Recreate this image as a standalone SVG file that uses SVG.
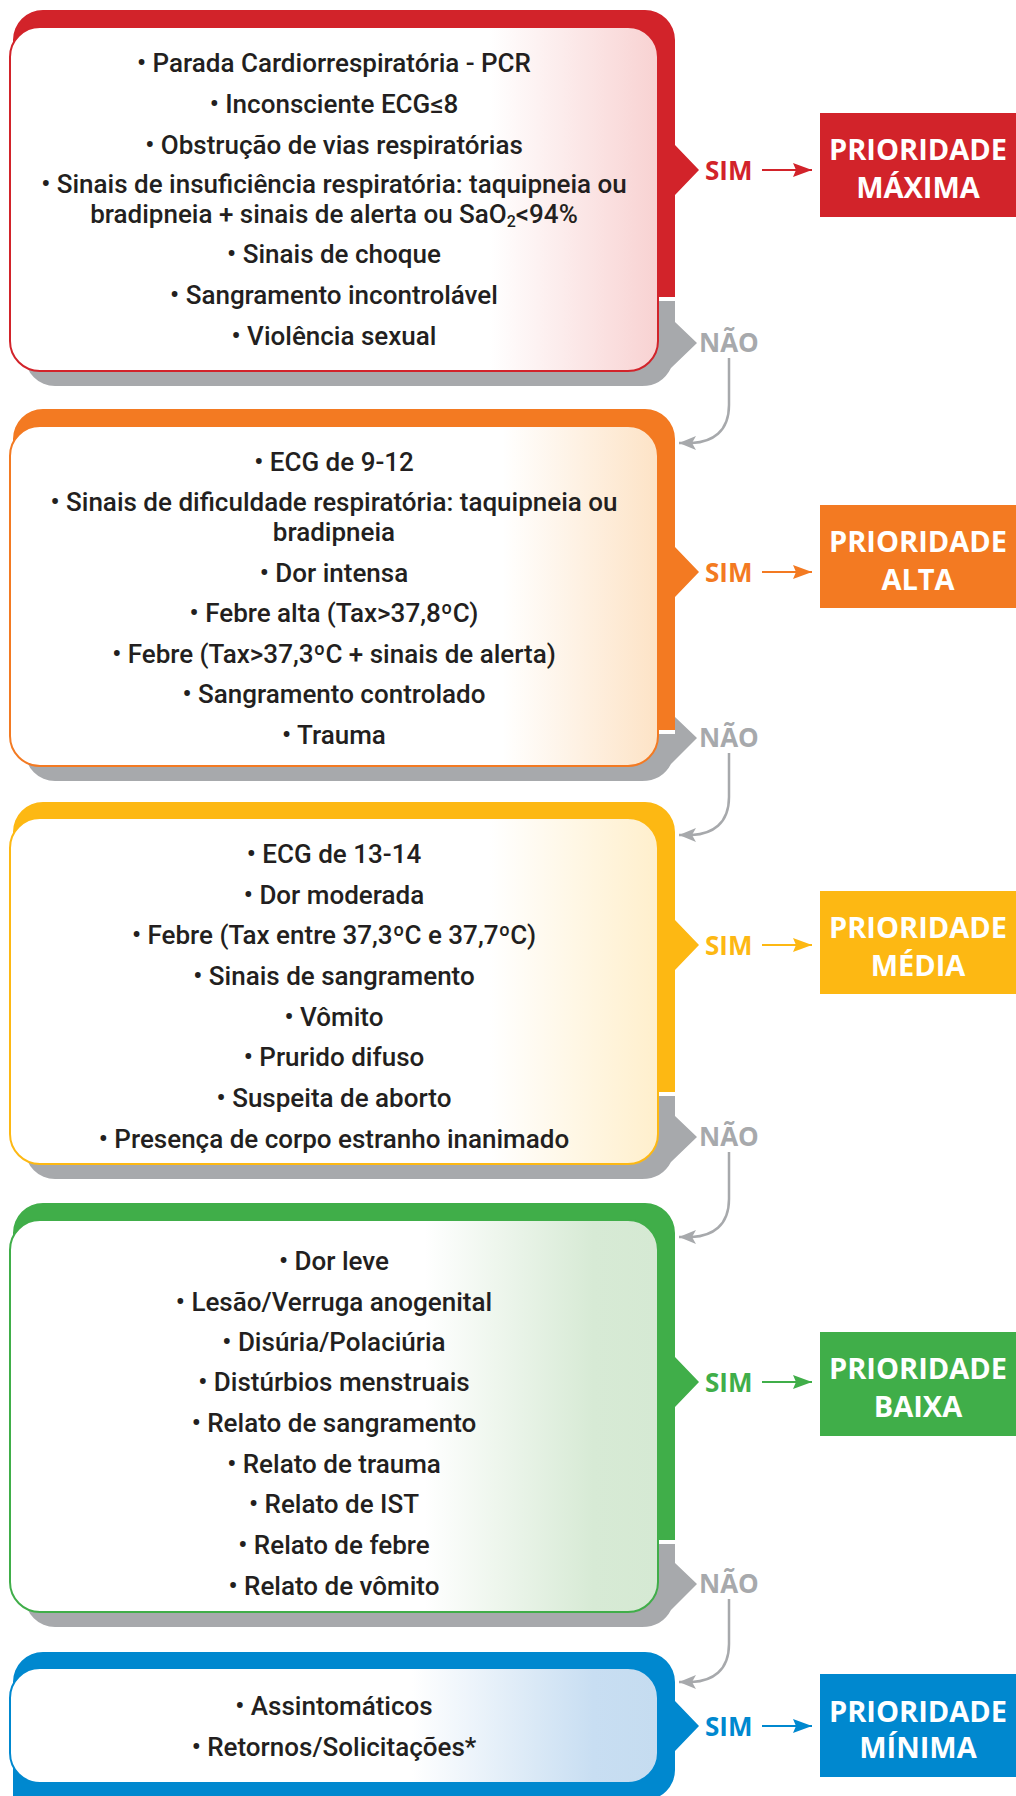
<svg xmlns="http://www.w3.org/2000/svg" width="1016" height="1796" viewBox="0 0 1016 1796">
<style>
.t{font-family:Roboto,"Liberation Sans",sans-serif;font-size:26px;font-weight:500;fill:#231f20;text-anchor:middle}
.sim{font-family:"Open Sans","Liberation Sans",sans-serif;font-weight:700;font-size:26px}
.nao{font-family:"Open Sans","Liberation Sans",sans-serif;font-weight:700;font-size:26px;fill:#a7a9ac}
.pt{font-family:"Open Sans","Liberation Sans",sans-serif;font-weight:700;font-size:29px;fill:#fff;text-anchor:middle}
.grey{fill:#a7a9ac}
.con{fill:none;stroke:#a7a9ac;stroke-width:2.5}
.sa{stroke-width:2.2;fill:none}
</style>
<defs>
<linearGradient id="gR" x1="0" x2="1" y1="0" y2="0"><stop offset="0" stop-color="#fff"/><stop offset="0.74" stop-color="#fff"/><stop offset="1" stop-color="#f8d2d2"/></linearGradient>
<linearGradient id="gO" x1="0" x2="1" y1="0" y2="0"><stop offset="0" stop-color="#fff"/><stop offset="0.76" stop-color="#fff"/><stop offset="1" stop-color="#fde3c6"/></linearGradient>
<linearGradient id="gY" x1="0" x2="1" y1="0" y2="0"><stop offset="0" stop-color="#fff"/><stop offset="0.74" stop-color="#fff"/><stop offset="1" stop-color="#ffefcc"/></linearGradient>
<linearGradient id="gG" x1="0" x2="1" y1="0" y2="0"><stop offset="0" stop-color="#fff"/><stop offset="0.64" stop-color="#fff"/><stop offset="0.9" stop-color="#d7ead5"/><stop offset="1" stop-color="#d5e9d3"/></linearGradient>
<linearGradient id="gB" x1="0" x2="1" y1="0" y2="0"><stop offset="0" stop-color="#fff"/><stop offset="0.62" stop-color="#fff"/><stop offset="0.9" stop-color="#c8def2"/><stop offset="1" stop-color="#c5dcf0"/></linearGradient>
<marker id="mN" markerUnits="userSpaceOnUse" markerWidth="18" markerHeight="14" viewBox="0 0 18 14" refX="17" refY="7" orient="auto"><path d="M0,0 L17,7 L0,14 L4,7 Z" fill="#a7a9ac"/></marker>
<marker id="mR" markerUnits="userSpaceOnUse" markerWidth="20" markerHeight="14" viewBox="0 0 20 14" refX="19" refY="7" orient="auto"><path d="M0,0 L19,7 L0,14 L3,7 Z" fill="#d2232a"/></marker>
<marker id="mO" markerUnits="userSpaceOnUse" markerWidth="20" markerHeight="14" viewBox="0 0 20 14" refX="19" refY="7" orient="auto"><path d="M0,0 L19,7 L0,14 L3,7 Z" fill="#f37a22"/></marker>
<marker id="mY" markerUnits="userSpaceOnUse" markerWidth="20" markerHeight="14" viewBox="0 0 20 14" refX="19" refY="7" orient="auto"><path d="M0,0 L19,7 L0,14 L3,7 Z" fill="#fdb813"/></marker>
<marker id="mG" markerUnits="userSpaceOnUse" markerWidth="20" markerHeight="14" viewBox="0 0 20 14" refX="19" refY="7" orient="auto"><path d="M0,0 L19,7 L0,14 L3,7 Z" fill="#40ae49"/></marker>
<marker id="mB" markerUnits="userSpaceOnUse" markerWidth="20" markerHeight="14" viewBox="0 0 20 14" refX="19" refY="7" orient="auto"><path d="M0,0 L19,7 L0,14 L3,7 Z" fill="#0088cf"/></marker>
</defs>
<rect width="1016" height="1796" fill="#fff"/>

<g id="box-maxima">
<path class="grey" d="M25,301 H675 V322 L697,343 L671,368 Q662,386 642,386 H55 A30,30 0 0 1 25,356 Z"/>
<path fill="#d2232a" d="M13,297 V40 A30,30 0 0 1 43,10 H645 A30,30 0 0 1 675,40 V145 L699,170 L675,195 V297 Z"/>
<rect x="10" y="27" width="648" height="344" rx="30" fill="url(#gR)" stroke="#d2232a" stroke-width="2"/>
<text class="t" x="334" y="72">• Parada Cardiorrespiratória - PCR</text>
<text class="t" x="334" y="113">• Inconsciente ECG≤8</text>
<text class="t" x="334" y="154">• Obstrução de vias respiratórias</text>
<text class="t" x="334" y="193">• Sinais de insuficiência respiratória: taquipneia ou</text>
<text class="t" x="334" y="223">bradipneia + sinais de alerta ou SaO<tspan font-size="16" dy="4">2</tspan><tspan dy="-4">&lt;94%</tspan></text>
<text class="t" x="334" y="263">• Sinais de choque</text>
<text class="t" x="334" y="304">• Sangramento incontrolável</text>
<text class="t" x="334" y="345">• Violência sexual</text>
</g>

<g id="box-alta">
<path class="grey" d="M25,734 H675 V760 L671,764 Q662,781 642,781 H55 A30,30 0 0 1 25,751 Z M675,717 L697,738 L675,760 Z"/>
<path fill="#f37a22" d="M13,730 V439 A30,30 0 0 1 43,409 H645 A30,30 0 0 1 675,439 V547 L699,572 L675,597 V730 Z"/>
<rect x="10" y="426" width="648" height="340" rx="30" fill="url(#gO)" stroke="#f37a22" stroke-width="2"/>
<text class="t" x="334" y="471">• ECG de 9-12</text>
<text class="t" x="334" y="511">• Sinais de dificuldade respiratória: taquipneia ou</text>
<text class="t" x="334" y="541">bradipneia</text>
<text class="t" x="334" y="582">• Dor intensa</text>
<text class="t" x="334" y="622">• Febre alta (Tax&gt;37,8ºC)</text>
<text class="t" x="334" y="663">• Febre (Tax&gt;37,3ºC + sinais de alerta)</text>
<text class="t" x="334" y="703">• Sangramento controlado</text>
<text class="t" x="334" y="744">• Trauma</text>
</g>

<g id="box-media">
<path class="grey" d="M25,1096 H675 V1116 L697,1137 L671,1162 Q662,1179 642,1179 H55 A30,30 0 0 1 25,1149 Z"/>
<path fill="#fdb813" d="M13,1092 V832 A30,30 0 0 1 43,802 H645 A30,30 0 0 1 675,832 V920 L699,945 L675,970 V1092 Z"/>
<rect x="10" y="818" width="648" height="346" rx="30" fill="url(#gY)" stroke="#fdb813" stroke-width="2"/>
<text class="t" x="334" y="863">• ECG de 13-14</text>
<text class="t" x="334" y="904">• Dor moderada</text>
<text class="t" x="334" y="944">• Febre (Tax entre 37,3ºC e 37,7ºC)</text>
<text class="t" x="334" y="985">• Sinais de sangramento</text>
<text class="t" x="334" y="1026">• Vômito</text>
<text class="t" x="334" y="1066">• Prurido difuso</text>
<text class="t" x="334" y="1107">• Suspeita de aborto</text>
<text class="t" x="334" y="1148">• Presença de corpo estranho inanimado</text>
</g>

<g id="box-baixa">
<path class="grey" d="M25,1544 H675 V1563 L697,1584 L671,1610 Q662,1627 642,1627 H55 A30,30 0 0 1 25,1597 Z"/>
<path fill="#40ae49" d="M13,1540 V1233 A30,30 0 0 1 43,1203 H645 A30,30 0 0 1 675,1233 V1357 L699,1382 L675,1407 V1540 Z"/>
<rect x="10" y="1220" width="648" height="392" rx="30" fill="url(#gG)" stroke="#40ae49" stroke-width="2"/>
<text class="t" x="334" y="1270">• Dor leve</text>
<text class="t" x="334" y="1311">• Lesão/Verruga anogenital</text>
<text class="t" x="334" y="1351">• Disúria/Polaciúria</text>
<text class="t" x="334" y="1391">• Distúrbios menstruais</text>
<text class="t" x="334" y="1432">• Relato de sangramento</text>
<text class="t" x="334" y="1473">• Relato de trauma</text>
<text class="t" x="334" y="1513">• Relato de IST</text>
<text class="t" x="334" y="1554">• Relato de febre</text>
<text class="t" x="334" y="1595">• Relato de vômito</text>
</g>

<g id="box-minima">
<path fill="#0088cf" d="M13,1800 V1682 A30,30 0 0 1 43,1652 H645 A30,30 0 0 1 675,1682 V1701 L699,1726 L675,1751 V1770 A30,30 0 0 1 645,1800 Z"/>
<rect x="10" y="1668" width="648" height="115" rx="30" fill="url(#gB)" stroke="#0088cf" stroke-width="2"/>
<text class="t" x="334" y="1715">• Assintomáticos</text>
<text class="t" x="334" y="1756">• Retornos/Solicitações*</text>
</g>

<g id="prio-maxima">
<rect x="820" y="113" width="196" height="104" fill="#d2232a"/>
<text class="pt" x="918" y="160">PRIORIDADE</text>
<text class="pt" x="918" y="198">MÁXIMA</text>
</g>
<g id="prio-alta">
<rect x="820" y="505" width="196" height="103" fill="#f37a22"/>
<text class="pt" x="918" y="552">PRIORIDADE</text>
<text class="pt" x="918" y="590">ALTA</text>
</g>
<g id="prio-media">
<rect x="820" y="891" width="196" height="103" fill="#fdb813"/>
<text class="pt" x="918" y="938">PRIORIDADE</text>
<text class="pt" x="918" y="976">MÉDIA</text>
</g>
<g id="prio-baixa">
<rect x="820" y="1332" width="196" height="104" fill="#40ae49"/>
<text class="pt" x="918" y="1379">PRIORIDADE</text>
<text class="pt" x="918" y="1417">BAIXA</text>
</g>
<g id="prio-minima">
<rect x="820" y="1674" width="196" height="103" fill="#0088cf"/>
<text class="pt" x="918" y="1722">PRIORIDADE</text>
<text class="pt" x="918" y="1758">MÍNIMA</text>
</g>

<g id="connectors">
<text class="sim" x="705" y="180" fill="#d2232a">SIM</text>
<path class="sa" stroke="#d2232a" d="M762,170 H812" marker-end="url(#mR)"/>
<text class="sim" x="705" y="582" fill="#f37a22">SIM</text>
<path class="sa" stroke="#f37a22" d="M762,572 H812" marker-end="url(#mO)"/>
<text class="sim" x="705" y="955" fill="#fdb813">SIM</text>
<path class="sa" stroke="#fdb813" d="M762,945 H812" marker-end="url(#mY)"/>
<text class="sim" x="705" y="1392" fill="#40ae49">SIM</text>
<path class="sa" stroke="#40ae49" d="M762,1382 H812" marker-end="url(#mG)"/>
<text class="sim" x="705" y="1736" fill="#0088cf">SIM</text>
<path class="sa" stroke="#0088cf" d="M762,1726 H812" marker-end="url(#mB)"/>

<text class="nao" x="699" y="352">NÃO</text>
<path class="con" d="M729,358 V405 C729,432 712,442 692,443 L679,443" marker-end="url(#mN)"/>
<text class="nao" x="699" y="747">NÃO</text>
<path class="con" d="M729,753 V797 C729,824 712,834 692,835 L679,835" marker-end="url(#mN)"/>
<text class="nao" x="699" y="1146">NÃO</text>
<path class="con" d="M729,1152 V1199 C729,1226 712,1236 692,1237 L679,1237" marker-end="url(#mN)"/>
<text class="nao" x="699" y="1593">NÃO</text>
<path class="con" d="M729,1599 V1644 C729,1671 712,1681 692,1682 L679,1682" marker-end="url(#mN)"/>
</g>
</svg>
